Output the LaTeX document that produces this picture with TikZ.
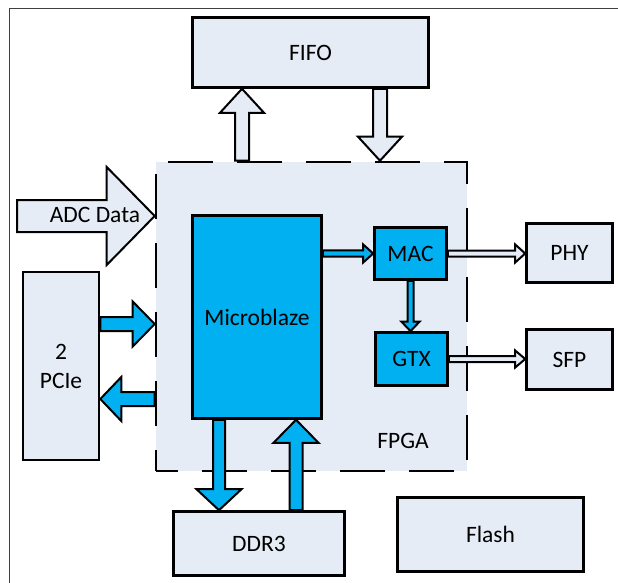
\documentclass[tikz,border=0pt]{standalone}
\usepackage{fontspec}
\setmainfont{Carlito}
\usetikzlibrary{calc}
\definecolor{paleblue}{RGB}{230,236,246}
\definecolor{cyanblue}{RGB}{0,176,240}
% block arrow: style, from, to, shaft half width, head half width, head length
\newcommand\barrow[6]{%
  \coordinate (hb) at ($(#3)!#6!(#2)$);
  \draw[#1] ($(#2)!#4!90:(#3)$) -- ($(hb)!#4!90:(#3)$) -- ($(hb)!#5!90:(#3)$) -- (#3)
    -- ($(hb)!#5!-90:(#3)$) -- ($(hb)!#4!-90:(#3)$) -- ($(#2)!#4!-90:(#3)$) -- cycle;}

\begin{document}
\begin{tikzpicture}[x=1pt,y=-1pt,line join=miter,
  font=\fontsize{23.5}{29}\selectfont]
\tikzset{blk/.style={draw=black,fill=paleblue,line width=2.6pt,inner sep=0pt},
  ip/.style={blk,fill=cyanblue},
  lpipe/.style={draw=black,fill=paleblue,line width=2pt},
  bpipe/.style={draw=black,fill=cyanblue,line width=2pt}}
\useasboundingbox (0,0) rectangle (618,583);
\draw[black!75,line width=1.5pt] (9.5,583) -- (9.5,8.5) -- (618,8.5);
% ---------- FPGA frame ----------
\node[fill=paleblue,draw=black,line width=2.6pt,dash pattern=on 45pt off 24pt,dash phase=23pt,
  minimum width=311pt,minimum height=309pt] (fpga) at (311.5,316.5) {};
\node (fpgalbl) at (403,441) {FPGA};
% ---------- boxes ----------
\node[blk,minimum width=236pt,minimum height=70pt] (fifo) at (310.5,52.5) {FIFO};
\node[ip,minimum width=129pt,minimum height=203pt] (micro) at (257,317) {Microblaze};
\node[ip,minimum width=72pt,minimum height=52pt] (mac) at (410.5,253.5) {MAC};
\node[ip,minimum width=72pt,minimum height=53pt] (gtx) at (411.5,359) {GTX};
\node[blk,minimum width=86pt,minimum height=59pt] (phy) at (569.5,253) {PHY};
\node[blk,minimum width=86pt,minimum height=60pt] (sfp) at (569.5,359.5) {SFP};
\node[blk,align=center,minimum width=76pt,minimum height=188pt] (pcie) at (61,366) {2\\PCIe};
\node[blk,minimum width=171pt,minimum height=64pt] (ddr) at (259,543.5) {DDR3};
\node[blk,minimum width=186pt,minimum height=74pt] (flash) at (490.5,534.5) {Flash};
% ---------- data paths ----------
\coordinate (adc) at (17,216);
\barrow{lpipe}{adc}{fpga.west |- adc}{16pt}{49pt}{48pt}
\node (adclbl) at (95,215) {ADC Data};
\barrow{lpipe}{fpga.north -| 242,0}{fifo.south -| 242,0}{7pt}{22pt}{24pt}
\barrow{lpipe}{fifo.south -| 380,0}{fpga.north -| 380,0}{7pt}{22pt}{24pt}
\barrow{bpipe}{pcie.east |- 0,324}{fpga.west |- 0,324}{7pt}{22.5pt}{22pt}
\barrow{bpipe}{fpga.west |- 0,399}{pcie.east |- 0,399}{7pt}{22pt}{21pt}
\barrow{bpipe}{micro.east |- mac.west}{mac.west}{3.2pt}{9pt}{10pt}
\barrow{bpipe}{mac.south}{mac.south |- gtx.north}{3pt}{9pt}{9.5pt}
\barrow{lpipe}{mac.east}{phy.west |- mac.east}{3pt}{9pt}{10pt}
\barrow{lpipe}{gtx.east}{sfp.west |- gtx.east}{3pt}{8.5pt}{10pt}
\barrow{bpipe}{micro.south -| 219,0}{ddr.north -| 219,0}{6pt}{22.5pt}{21pt}
\barrow{bpipe}{ddr.north -| 296,0}{micro.south -| 296,0}{6.5pt}{22.5pt}{23pt}
\end{tikzpicture}
\end{document}
